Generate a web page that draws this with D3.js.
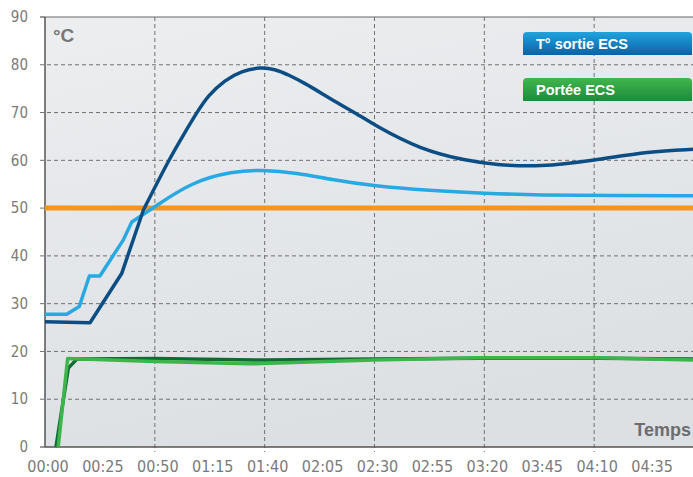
<!DOCTYPE html>
<html>
<head>
<meta charset="utf-8">
<script src="https://cdn.jsdelivr.net/npm/d3@7"></script>
<style>
  body { margin: 0; background: #fff; }
  svg { display: block; }
</style>
</head>
<body>
<div id="chart"></div>
<script>
var WIDTH = 693
var HEIGHT = 477
var margin = {top: 17, right: 0, bottom: 30, left: 45}

// data (time in minutes, temperature in °C)
var yTicks = [0, 10, 20, 30, 40, 50, 60, 70, 80, 90]
var xTickMinutes = [0, 25, 50, 75, 100, 125, 150, 175, 200, 225, 250, 275]
var xTickLabels = ["00:00", "00:25", "00:50", "01:15", "01:40", "02:05", "02:30", "02:55", "03:20", "03:45", "04:10", "04:35"]
var xGridMinutes = [50, 100, 150, 200, 250]
var setpoint = 50

// T° sortie ECS, dark curve: straight start-up segments, then a smooth overshoot
var darkBlueStartT = [0, 20.5, 34.9, 44.8]
var darkBlueStartV = [26.2, 26, 36.3, 49.6]
var darkBlueT = [44.8, 56.1, 63, 69.1, 74.3, 81.9, 89.5, 97.9, 104.7, 110.8, 118.4, 126, 133.5, 141.1, 150.2, 170.7, 192, 205, 225, 250, 275, 295]
var darkBlueV = [49.6, 59.9, 65.3, 70, 73.6, 76.8, 78.7, 79.5, 79.1, 77.9, 76.1, 74, 71.9, 70, 67.3, 62.3, 59.9, 59.1, 58.6, 60, 61.9, 62.3]

// light curve
var lightBlueStartT = [0, 9.9, 15.6, 20.2, 25, 35.6, 39.5, 44.8]
var lightBlueStartV = [27.8, 27.8, 29.4, 35.8, 35.8, 43.3, 47.1, 48.7]
var lightBlueT = [44.8, 50.1, 66.8, 85.6, 98, 115, 130, 150, 175, 200, 225, 260, 295]
var lightBlueV = [48.7, 50.3, 55.5, 57.7, 58, 57.4, 56, 54.6, 53.7, 53.1, 52.7, 52.6, 52.6]

var darkGreenT = [5, 10.6, 14.5, 50, 100, 149.5, 198, 252, 295]
var darkGreenV = [0, 16.5, 18.4, 18.5, 18.2, 18.4, 18.6, 18.6, 18.4]

var lightGreenT = [6, 10.3, 50, 93, 149.5, 198, 252, 295]
var lightGreenV = [0, 18.5, 17.9, 17.4, 18.2, 18.7, 18.7, 18.2]

var legendLabels = ["T° sortie ECS", "Portée ECS"]

function zip(t, v) { return t.map(function(d, i) { return {t: d, v: v[i]} }) }

var svg = d3.select("#chart").append("svg")
  .attr("width", WIDTH)
  .attr("height", HEIGHT)

var defs = svg.append("defs")
var bg = defs.append("linearGradient").attr("id", "bg").attr("x1", 0).attr("y1", 0).attr("x2", 0.3).attr("y2", 1)
bg.append("stop").attr("offset", "0%").attr("stop-color", "#eceef0")
bg.append("stop").attr("offset", "100%").attr("stop-color", "#dde0e3")
var gBlue = defs.append("linearGradient").attr("id", "gblue").attr("x1", 0).attr("y1", 0).attr("x2", 0).attr("y2", 1)
gBlue.append("stop").attr("offset", "0%").attr("stop-color", "#22a3de")
gBlue.append("stop").attr("offset", "100%").attr("stop-color", "#0a62a8")
var gGreen = defs.append("linearGradient").attr("id", "ggreen").attr("x1", 0).attr("y1", 0).attr("x2", 0).attr("y2", 1)
gGreen.append("stop").attr("offset", "0%").attr("stop-color", "#41b64d")
gGreen.append("stop").attr("offset", "100%").attr("stop-color", "#1d8a3b")

var x = d3.scaleLinear().domain([0, 295]).range([margin.left, WIDTH - margin.right])
var y = d3.scaleLinear().domain([0, 90]).range([HEIGHT - margin.bottom, margin.top])

var tickFont = "'Liberation Sans Narrow', 'DejaVu Sans Condensed', sans-serif"

// plot background
svg.append("rect")
  .attr("x", x(0)).attr("y", y(90))
  .attr("width", x(295) - x(0)).attr("height", y(0) - y(90))
  .attr("fill", "url(#bg)")

// horizontal grid
svg.selectAll(".hgrid")
  .data(yTicks.filter(function(d) { return d > 0 && d < 90 }))
  .enter().append("line")
  .attr("class", "hgrid")
  .attr("x1", x(0) - 5).attr("x2", x(295))
  .attr("y1", function(d) { return y(d) }).attr("y2", function(d) { return y(d) })
  .attr("stroke", "#707070").attr("stroke-width", 1).attr("stroke-dasharray", "4,3")

// vertical grid
svg.selectAll(".vgrid")
  .data(xGridMinutes)
  .enter().append("line")
  .attr("class", "vgrid")
  .attr("x1", function(d) { return x(d) }).attr("x2", function(d) { return x(d) })
  .attr("y1", y(90)).attr("y2", y(0) + 5)
  .attr("stroke", "#707070").attr("stroke-width", 1).attr("stroke-dasharray", "4,3")

// axes frame
svg.append("line").attr("x1", x(0)).attr("x2", x(295)).attr("y1", y(90)).attr("y2", y(90))
  .attr("stroke", "#666").attr("stroke-width", 1)
svg.append("line").attr("x1", x(0)).attr("x2", x(0)).attr("y1", y(90)).attr("y2", y(0))
  .attr("stroke", "#555").attr("stroke-width", 1.5)
svg.append("line").attr("x1", x(0)).attr("x2", x(295)).attr("y1", y(0)).attr("y2", y(0))
  .attr("stroke", "#555").attr("stroke-width", 1.5)
svg.selectAll(".ytick").data([0, 90]).enter().append("line")
  .attr("x1", x(0) - 5).attr("x2", x(0))
  .attr("y1", function(d) { return y(d) }).attr("y2", function(d) { return y(d) })
  .attr("stroke", "#555").attr("stroke-width", 1.2)

// tick labels
svg.selectAll(".ylabel")
  .data(yTicks)
  .enter().append("text")
  .attr("x", 28).attr("y", function(d) { return y(d) })
  .attr("dy", "0.35em").attr("text-anchor", "end")
  .attr("font-family", tickFont).attr("font-size", 15).attr("fill", "#7a7a7a")
  .text(function(d) { return d })

svg.selectAll(".xlabel")
  .data(xTickMinutes)
  .enter().append("text")
  .attr("x", function(d) { return x(d) + 3 }).attr("y", 472)
  .attr("text-anchor", "middle")
  .attr("font-family", tickFont).attr("font-size", 16).attr("fill", "#7a7a7a")
  .text(function(d, i) { return xTickLabels[i] })

svg.append("text").attr("x", 53).attr("y", 42)
  .attr("font-family", "'Liberation Sans', sans-serif").attr("font-weight", "bold")
  .attr("font-size", 19).attr("fill", "#777").text("°C")

svg.append("text").attr("x", 691).attr("y", 436).attr("text-anchor", "end")
  .attr("font-family", "'Liberation Sans', sans-serif").attr("font-weight", "bold")
  .attr("font-size", 18).attr("fill", "#6d6d6d").text("Temps")

// series
var line = d3.line().x(function(d) { return x(d.t) }).y(function(d) { return y(d.v) })
var smooth = d3.line().x(function(d) { return x(d.t) }).y(function(d) { return y(d.v) }).curve(d3.curveBasis)

// straight start, then smooth rest, joined in one path
function joined(t0, v0, t1, v1) {
  return line(zip(t0, v0)) + smooth(zip(t1, v1)).replace(/^M/, "L")
}

svg.append("line")
  .attr("x1", x(0)).attr("x2", x(295)).attr("y1", y(setpoint)).attr("y2", y(setpoint))
  .attr("stroke", "#f7941d").attr("stroke-width", 5)

svg.append("path").datum(zip(darkGreenT, darkGreenV)).attr("d", line)
  .attr("fill", "none").attr("stroke", "#126a33").attr("stroke-width", 3.5).attr("stroke-linejoin", "round")
svg.append("path").datum(zip(lightGreenT, lightGreenV)).attr("d", line)
  .attr("fill", "none").attr("stroke", "#3cb54a").attr("stroke-width", 3.5).attr("stroke-linejoin", "round")
svg.append("path").attr("d", joined(lightBlueStartT, lightBlueStartV, lightBlueT, lightBlueV))
  .attr("fill", "none").attr("stroke", "#29a9e1").attr("stroke-width", 3.5).attr("stroke-linejoin", "round")
svg.append("path").attr("d", joined(darkBlueStartT, darkBlueStartV, darkBlueT, darkBlueV))
  .attr("fill", "none").attr("stroke", "#0c4e84").attr("stroke-width", 3.5).attr("stroke-linejoin", "round")

// legend
var legend = svg.selectAll(".legend")
  .data(legendLabels)
  .enter().append("g")
  .attr("class", "legend")
  .attr("transform", function(d, i) { return "translate(523," + (32 + i * 46) + ")" })
legend.append("path")
  .attr("d", "M0,23 L0,4 Q0,0 4,0 L165,0 Q169,0 169,4 L169,23 Z")
  .attr("fill", function(d, i) { return i == 0 ? "url(#gblue)" : "url(#ggreen)" })
legend.append("text")
  .attr("x", 13).attr("y", 17)
  .attr("font-family", "'Liberation Sans', sans-serif").attr("font-weight", "bold")
  .attr("font-size", 14.5).attr("fill", "#fff")
  .text(function(d) { return d })
</script>
</body>
</html>
